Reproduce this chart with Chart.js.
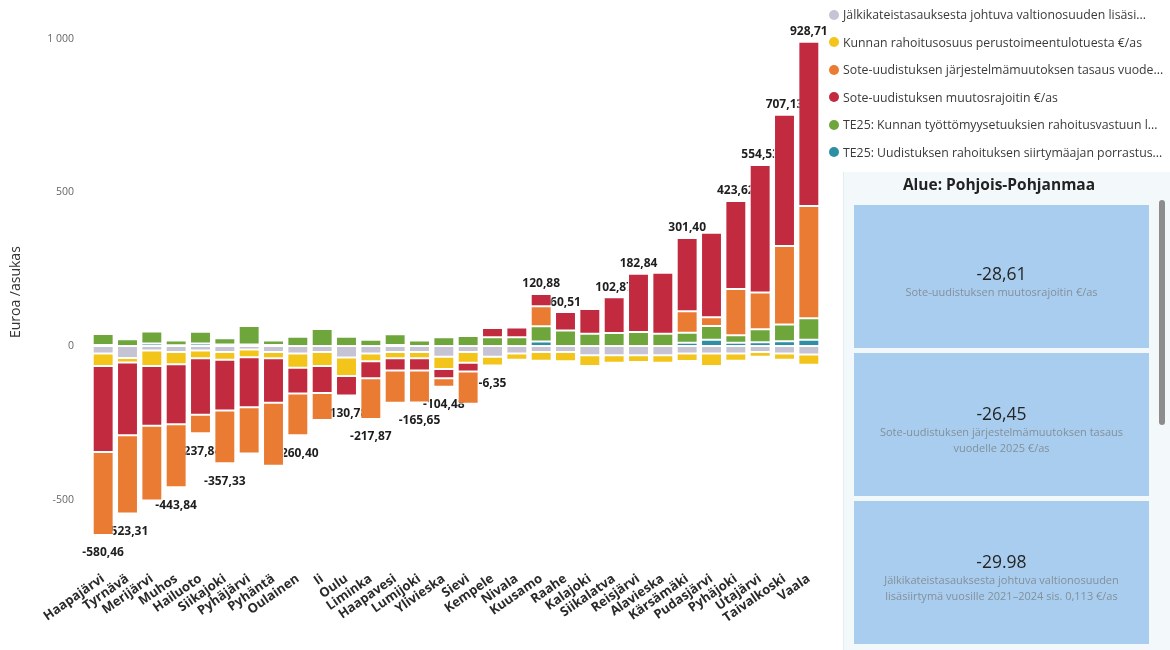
<!DOCTYPE html>
<html>
<head>
<meta charset="utf-8">
<script src="https://cdn.jsdelivr.net/npm/chart.js@4.4.0/dist/chart.umd.min.js"></script>
<style>
    body { margin: 0; background: #fff; font-family: 'Open Sans', sans-serif; }
    #wrap { position: relative; width: 1170px; height: 650px; overflow: hidden; }
    #chartBox { position: absolute; left: 0; top: 0; width: 830px; height: 650px; }
    #legend { position: absolute; left: 829px; top: 1px; width: 341px; }
    .item { display: flex; align-items: center; height: 27.5px; font-size: 12.3px; color: #3a3a3a; white-space: nowrap; }
    .dot { width: 10px; height: 10px; border-radius: 50%; margin-right: 4px; flex: none; }
    #panel { position: absolute; left: 843px; top: 172px; width: 327px; height: 478px; background: #f3f9fb; border-left: 1px solid #e2eef2; }
    #panel h2 { margin: 0; text-align: center; font-size: 15.5px; font-weight: bold; color: #222; position: absolute; top: 1px; left: 0; width: 310px; }
    .card { position: absolute; left: 10px; width: 295px; height: 143px; background: #a9cdee;
            display: flex; flex-direction: column; justify-content: center; align-items: center; box-sizing: border-box; padding-top: 8px; }
    .card .num { font-size: 17.5px; line-height: 22px; color: #252525; }
    .card .sub { font-size: 11px; line-height: 16px; color: #82909b; text-align: center; width: 285px; white-space: nowrap; }
    #scroll { position: absolute; left: 315px; top: 28px; width: 6px; height: 225px; background: #8c8c8c; border-radius: 3px; }
</style>
</head>
<body>
<div id="wrap">
    <div id="chartBox"><canvas id="chart"></canvas></div>
    <div id="legend"></div>
    <div id="panel">
        <h2>Alue: Pohjois-Pohjanmaa</h2>
        <div id="cards"></div>
        <div id="scroll"></div>
    </div>
</div>
<script>
// Municipalities (x axis)
const municipalities = ['Haapajärvi', 'Tyrnävä', 'Merijärvi', 'Muhos', 'Hailuoto', 'Siikajoki', 'Pyhäjärvi', 'Pyhäntä',
    'Oulainen', 'Ii', 'Oulu', 'Liminka', 'Haapavesi', 'Lumijoki', 'Ylivieska', 'Sievi', 'Kempele', 'Nivala',
    'Kuusamo', 'Raahe', 'Kalajoki', 'Siikalatva', 'Reisjärvi', 'Alavieska', 'Kärsämäki', 'Pudasjärvi',
    'Pyhäjoki', 'Utajärvi', 'Taivalkoski', 'Vaala'];

// Series values, €/asukas
const jalki    = [-25, -39, -15, -20, -15, -20, -12, -20, -25, -20, -38, -25, -20, -20, -35, -20, -35, -25, -20, -20, -30, -30, -30, -30, -25, -25, -25, -20, -25, -28];
const kunnan   = [-40, -15, -50, -40, -25, -25, -25, -20, -46, -45, -60, -25, -20, -20, -40, -35, -29, -20, -28, -30, -35, -25, -22, -25, -24, -40, -23, -15, -20, -33];
const tasaus   = [-270, -254, -243, -205, -60, -172, -150, -205, -136, -88, 0, -133, -105, -104, -28, -105, 0, 0, 65, 0, 0, 0, 0, 0, 70, 28, 150, 120, 255, 365];
const muutos   = [-280, -237, -195, -195, -184, -165, -163, -145, -84, -88, -63, -55, -40, -40, -30, -28, 30, 32, 40, 60, 80, 116, 190, 198, 238, 275, 287, 415, 427, 535];
const tyott    = [36, 22, 39, 16, 38, 20, 60, 15, 30, 55, 30, 20, 35, 18, 28, 32, 28, 28, 50, 50, 40, 42, 45, 40, 33, 45, 25, 42, 55, 70];
const siirtyma = [3, 0, 8, 2, 8, 5, 5, 3, 0, 0, 0, 0, 3, 0, 0, 0, 0, 0, 14, 0, 0, 0, 0, 0, 10, 20, 10, 12, 15, 20];

// Total labels shown above / below the bars (null = label hidden)
const totals = [-580.46, -523.31, null, -443.84, -237.84, -357.33, null, null, -260.40, null, -130.78, -217.87, null,
    -165.65, -104.48, null, -6.35, null, 120.88, 60.51, null, 102.87, 182.84, null, 301.40, null, 423.62, 554.53, 707.13, 928.71];

const yTicks = [-500, 0, 500, 1000];

const legendNames = [
    'Jälkikateistasauksesta johtuva valtionosuuden  lisäsi...',
    'Kunnan rahoitusosuus perustoimeentulotuesta €/as',
    'Sote-uudistuksen järjestelmämuutoksen tasaus vuode...',
    'Sote-uudistuksen muutosrajoitin €/as',
    'TE25: Kunnan työttömyysetuuksien rahoitusvastuun l...',
    'TE25: Uudistuksen rahoituksen siirtymäajan porrastus...'
];
const legendColors = ['#c6c4d4', '#f3c419', '#ea7b33', '#c22a40', '#6ea63c', '#2d8ea4'];

// KPI cards on the right
const cardValues = ['-28,61', '-26,45', '-29.98'];
const cardTexts = [
    ['Sote-uudistuksen muutosrajoitin €/as'],
    ['Sote-uudistuksen järjestelmämuutoksen tasaus', 'vuodelle 2025 €/as'],
    ['Jälkikateistasauksesta johtuva valtionosuuden', 'lisäsiirtymä vuosille 2021–2024 sis. 0,113 €/as']
];

Chart.defaults.font.family = "'Open Sans', sans-serif";

// Legend
const legendEl = document.getElementById('legend');
legendNames.forEach((name, i) => {
    const row = document.createElement('div');
    row.className = 'item';
    row.innerHTML = `<span class="dot" style="background:${legendColors[i]}"></span><span>${name}</span>`;
    legendEl.appendChild(row);
});

// Cards
const cardsEl = document.getElementById('cards');
cardValues.forEach((val, i) => {
    const card = document.createElement('div');
    card.className = 'card';
    card.style.top = (33 + i * 148) + 'px';
    card.innerHTML = `<div class="num">${val}</div>` + cardTexts[i].map(t => `<div class="sub">${t}</div>`).join('');
    cardsEl.appendChild(card);
});

const fmtTick = v => String(v).replace(/\B(?=(\d{3})+(?!\d))/g, ' ');
const fmtDec = v => v.toFixed(2).replace('.', ',');
const posPart = arr => arr.map(v => v > 0 ? v : 0);
const negPart = arr => arr.map(v => v < 0 ? v : 0);

function ds(values, color, name) {
    return {
        label: name,
        data: values.map(v => v === 0 ? null : v),
        backgroundColor: color,
        borderColor: '#fff',
        borderWidth: 1,
        borderSkipped: false,
        barPercentage: 0.86,
        categoryPercentage: 1
    };
}

// red sits nearer zero on the negative side, orange nearer zero on the positive side
const datasets = [
    ds(jalki, legendColors[0], legendNames[0]),
    ds(kunnan, legendColors[1], legendNames[1]),
    ds(siirtyma, legendColors[5], legendNames[5]),
    ds(tyott, legendColors[4], legendNames[4]),
    ds(negPart(muutos), legendColors[3], legendNames[3]),
    ds(posPart(tasaus), legendColors[2], legendNames[2]),
    ds(negPart(tasaus), legendColors[2], legendNames[2]),
    ds(posPart(muutos), legendColors[3], legendNames[3])
];

const allSeries = [jalki, kunnan, tasaus, muutos, tyott, siirtyma];

// Total labels, drawn under the bars like in the original
const totalLabels = {
    id: 'totalLabels',
    beforeDatasetsDraw(chart) {
        const { ctx, scales: { x, y } } = chart;
        ctx.save();
        ctx.font = "bold 12px 'Open Sans'";
        ctx.fillStyle = '#1e1e1e';
        ctx.textAlign = 'center';
        totals.forEach((t, i) => {
            if (t === null) return;
            let pos = 0, neg = 0;
            allSeries.forEach(s => { if (s[i] > 0) pos += s[i]; else neg += s[i]; });
            const cx = x.getPixelForValue(i);
            if (t >= 0) {
                ctx.textBaseline = 'bottom';
                ctx.fillText(fmtDec(t), cx, y.getPixelForValue(pos) - 4);
            } else {
                ctx.textBaseline = 'top';
                ctx.fillText(fmtDec(t), cx, y.getPixelForValue(neg) + 12);
            }
        });
        ctx.restore();
    }
};

new Chart(document.getElementById('chart'), {
    type: 'bar',
    data: { labels: municipalities, datasets },
    options: {
        responsive: true,
        maintainAspectRatio: false,
        animation: false,
        layout: { padding: { top: 22, right: 9, left: 0, bottom: 0 } },
        plugins: { legend: { display: false }, tooltip: { enabled: false } },
        scales: {
            x: {
                stacked: true,
                grid: { display: false },
                border: { display: false },
                ticks: {
                    autoSkip: false,
                    maxRotation: 35,
                    minRotation: 35,
                    padding: 2,
                    color: '#2a2a2a',
                    font: { size: 13, weight: 'bold' }
                },
                afterFit(scale) { scale.height = 89; }
            },
            y: {
                stacked: true,
                min: -700,
                max: 1050,
                grid: { display: false, drawTicks: false },
                border: { display: false },
                afterFit(scale) { scale.width = 91; },
                afterBuildTicks(scale) { scale.ticks = yTicks.map(v => ({ value: v })); },
                ticks: {
                    padding: 17,
                    color: '#666',
                    font: { size: 10.5 },
                    callback: v => fmtTick(v)
                },
                title: {
                    display: true,
                    text: 'Euroa /asukas',
                    color: '#333',
                    font: { size: 14 },
                    padding: { top: 8, bottom: 0 }
                }
            }
        }
    },
    plugins: [totalLabels]
});
</script>
</body>
</html>
